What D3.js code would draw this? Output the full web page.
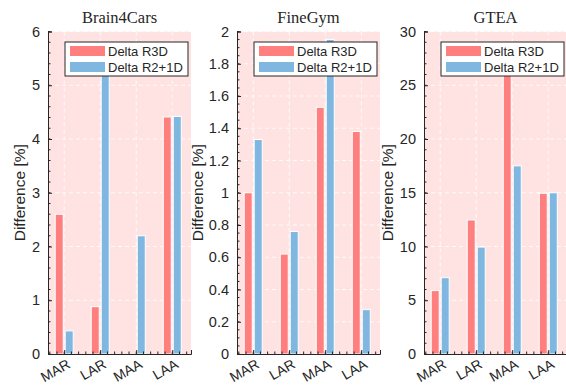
<!DOCTYPE html>
<html>
<head>
<meta charset="utf-8">
<script src="https://cdn.jsdelivr.net/npm/d3@7"></script>
<style>
  body { margin: 0; background: #fff; }
  svg { display: block; }
  text { font-family: 'Liberation Sans', Arial, sans-serif; fill: #262626; }
</style>
</head>
<body>
<svg id="chart"></svg>
<script>
const categories = ['MAR', 'LAR', 'MAA', 'LAA']
const seriesNames = ['Delta R3D', 'Delta R2+1D']
const colors = ['#ff7f7f', '#7fb7e0']

const titles = ['Brain4Cars', 'FineGym', 'GTEA']
const r3d = [
  [2.6, 0.88, 0, 4.41],
  [1.0, 0.62, 1.53, 1.38],
  [5.9, 12.47, 27, 14.95]
]
const r21d = [
  [0.43, 5.6, 2.2, 4.42],
  [1.33, 0.76, 1.95, 0.275],
  [7.1, 9.95, 17.5, 15]
]
const yMax = [6, 2, 30]
const yMajor = [1, 0.2, 5]
const yMinor = [0.2, 0.05, 1]

const w = 566
const h = 385
const panelLeft = [48, 237, 424]
const yLabelGap = [23, 34, 31]
const panelW = 143
const plotTop = 31.5
const plotBottom = 354
const barW = 8

const svg = d3.select('#chart').attr('width', w).attr('height', h)

titles.forEach((title, p) => drawPanel(p))

function drawPanel(p) {
  const x0 = panelLeft[p]
  const g = svg.append('g')

  const x = d3.scaleLinear().domain([0.55, 4.52]).range([x0, x0 + panelW])
  const y = d3.scaleLinear().domain([0, yMax[p]]).range([plotBottom, plotTop])

  const majorTicks = d3.range(0, yMax[p] + yMajor[p] / 2, yMajor[p])
  const minorTicks = d3.range(0, yMax[p] + yMinor[p] / 2, yMinor[p])

  // background
  g.append('rect')
    .attr('x', x0).attr('y', plotTop)
    .attr('width', panelW).attr('height', plotBottom - plotTop)
    .attr('fill', '#ffe3e3')

  // grid
  g.selectAll('.hgrid').data(majorTicks.slice(1)).enter().append('line')
    .attr('x1', x0).attr('x2', x0 + panelW)
    .attr('y1', (d) => y(d)).attr('y2', (d) => y(d))
    .attr('stroke', '#fff').attr('stroke-width', 1)
    .attr('stroke-dasharray', '4,3').attr('opacity', 0.8)

  g.selectAll('.vgrid').data(categories).enter().append('line')
    .attr('x1', (d, i) => x(i + 1)).attr('x2', (d, i) => x(i + 1))
    .attr('y1', plotTop).attr('y2', plotBottom)
    .attr('stroke', '#fff').attr('stroke-width', 1)
    .attr('stroke-dasharray', '4,3').attr('opacity', 0.8)

  // bars
  const series = [r3d[p], r21d[p]]
  series.forEach((vals, s) => {
    g.selectAll('.bar' + s).data(vals).enter().append('rect')
      .attr('x', (d, i) => x(i + 1) + (s === 0 ? -barW - 1 : 1))
      .attr('y', (d) => y(Math.min(d, yMax[p])))
      .attr('width', barW)
      .attr('height', (d) => plotBottom - y(Math.min(d, yMax[p])))
      .attr('fill', colors[s])
      .attr('stroke', (d) => (d > 0 ? '#fff' : 'none'))
      .attr('stroke-width', 1)
  })

  // y axis
  const yAxis = d3.axisLeft(y).tickValues(majorTicks)
    .tickSize(-4).tickPadding(8)
    .tickFormat((d) => d3.format('~g')(+d.toFixed(2)))
  const ya = g.append('g').attr('transform', `translate(${x0},0)`).call(yAxis)
  ya.select('.domain').attr('stroke', '#262626')
  ya.selectAll('.tick line').attr('stroke', '#262626')
  ya.selectAll('.tick text').style('font-size', '14.5px')

  g.selectAll('.yminor').data(minorTicks).enter().append('line')
    .attr('x1', x0).attr('x2', x0 + 2.5)
    .attr('y1', (d) => y(d)).attr('y2', (d) => y(d))
    .attr('stroke', '#262626')

  // x axis
  const xAxis = d3.axisBottom(x).tickValues([1, 2, 3, 4])
    .tickSize(-4).tickFormat('')
  const xa = g.append('g').attr('transform', `translate(0,${plotBottom})`).call(xAxis)
  xa.select('.domain').attr('stroke', '#262626')
  xa.selectAll('.tick line').attr('stroke', '#262626')

  const xMinor = d3.range(0.6, 4.51, 0.2)
  g.selectAll('.xminor').data(xMinor).enter().append('line')
    .attr('x1', (d) => x(d)).attr('x2', (d) => x(d))
    .attr('y1', plotBottom).attr('y2', plotBottom - 2.5)
    .attr('stroke', '#262626')

  g.selectAll('.xlabel').data(categories).enter().append('text')
    .attr('transform', (d, i) => `translate(${x(i + 1) + 7},${plotBottom + 13}) rotate(-30)`)
    .attr('text-anchor', 'end')
    .style('font-size', '14px')
    .text((d) => d)

  // y label
  g.append('text')
    .attr('transform', `translate(${x0 - yLabelGap[p]},${(plotTop + plotBottom) / 2}) rotate(-90)`)
    .attr('text-anchor', 'middle')
    .style('font-size', '15.5px')
    .text('Difference [%]')

  // title
  g.append('text')
    .attr('x', x0 + panelW / 2).attr('y', 22.5)
    .attr('text-anchor', 'middle')
    .style('font-family', "'Liberation Serif', serif")
    .style('font-size', '16.5px')
    .text(titles[p])

  // legend
  const lg = g.append('g').attr('transform', `translate(${x0 + 17},42)`)
  lg.append('rect').attr('width', 123).attr('height', 34)
    .attr('fill', '#fff').attr('stroke', '#262626').attr('stroke-width', 1)
  seriesNames.forEach((name, s) => {
    lg.append('rect')
      .attr('x', 5).attr('y', 4 + s * 16)
      .attr('width', 35).attr('height', 10)
      .attr('fill', colors[s])
    lg.append('text')
      .attr('x', 43).attr('y', 13.5 + s * 16)
      .style('font-size', '13px')
      .text(name)
  })
}
</script>
</body>
</html>
